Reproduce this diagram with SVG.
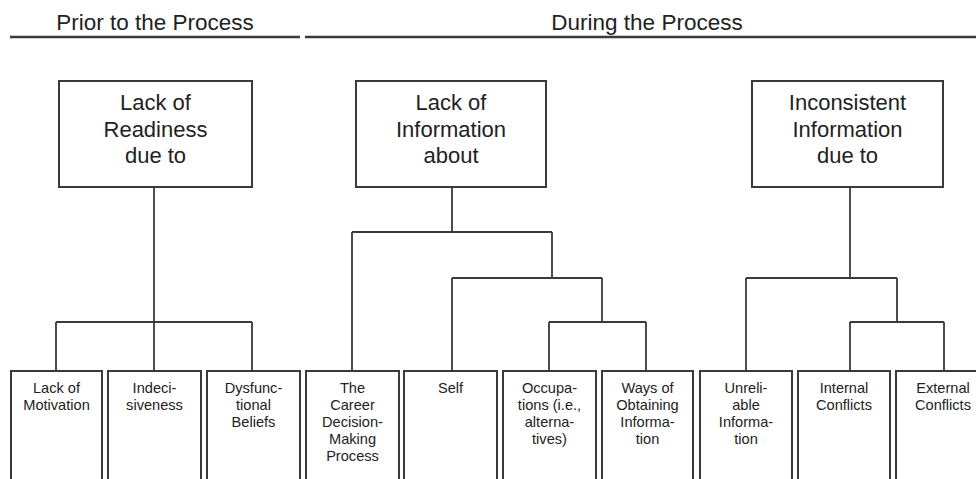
<svg xmlns="http://www.w3.org/2000/svg" width="976" height="479" viewBox="0 0 976 479">
  <style>
    .bg { fill: #ffffff; }
    .box { fill: #ffffff; stroke: #3a3a3a; stroke-width: 2; }
    .wire { fill: none; stroke: #3a3a3a; stroke-width: 1.8; }
    .rule { stroke: #3a3a3a; stroke-width: 2.4; }
    text { font-family: "Liberation Sans", Arial, sans-serif; fill: #222222; text-anchor: middle; }
    .head { font-size: 22.5px; }
    .big { font-size: 22px; }
    .small { font-size: 14.6px; }
  </style>
  <rect class="bg" x="0" y="0" width="976" height="479"/>

  <!-- phase headings -->
  <g id="headings">
    <text class="head" x="155" y="30">Prior to the Process</text>
    <line class="rule" x1="10" y1="37" x2="300" y2="37"/>
    <text class="head" x="647" y="30">During the Process</text>
    <line class="rule" x1="305" y1="37" x2="976" y2="37"/>
  </g>

  <!-- tree connectors -->
  <g id="connectors">
    <!-- readiness -->
    <path class="wire" d="M154,187 V371 M56,322 H252 M56,322 V371 M252,322 V371"/>
    <!-- information -->
    <path class="wire" d="M452,187 V232 M352,232 H552 M352,232 V371 M552,232 V278 M452,278 H602 M452,278 V371 M602,278 V322 M549,322 H646 M549,322 V371 M646,322 V371"/>
    <!-- inconsistent -->
    <path class="wire" d="M850,187 V278 M746,278 H897 M746,278 V371 M897,278 V322 M850,322 H944 M850,322 V371 M944,322 V371"/>
  </g>

  <!-- top-level nodes -->
  <g id="readiness">
    <rect class="box" x="59" y="81" width="193" height="106"/>
    <text class="big" x="155.5" y="110">Lack of</text>
    <text class="big" x="155.5" y="136.5">Readiness</text>
    <text class="big" x="155.5" y="163">due to</text>
  </g>
  <g id="information">
    <rect class="box" x="356" y="81" width="190" height="106"/>
    <text class="big" x="451" y="110">Lack of</text>
    <text class="big" x="451" y="136.5">Information</text>
    <text class="big" x="451" y="163">about</text>
  </g>
  <g id="inconsistent">
    <rect class="box" x="752" y="81" width="191" height="106"/>
    <text class="big" x="847.5" y="110">Inconsistent</text>
    <text class="big" x="847.5" y="136.5">Information</text>
    <text class="big" x="847.5" y="163">due to</text>
  </g>

  <!-- leaf nodes -->
  <g id="motivation">
    <rect class="box" x="11" y="371" width="91" height="120"/>
    <text class="small" x="56.5" y="393">Lack of</text>
    <text class="small" x="56.5" y="410">Motivation</text>
  </g>
  <g id="indecisiveness">
    <rect class="box" x="108" y="371" width="93" height="120"/>
    <text class="small" x="154.5" y="393">Indeci-</text>
    <text class="small" x="154.5" y="410">siveness</text>
  </g>
  <g id="beliefs">
    <rect class="box" x="207" y="371" width="93" height="120"/>
    <text class="small" x="253.5" y="393">Dysfunc-</text>
    <text class="small" x="253.5" y="410">tional</text>
    <text class="small" x="253.5" y="427">Beliefs</text>
  </g>
  <g id="career">
    <rect class="box" x="306" y="371" width="93" height="120"/>
    <text class="small" x="352.5" y="393">The</text>
    <text class="small" x="352.5" y="410">Career</text>
    <text class="small" x="352.5" y="427">Decision-</text>
    <text class="small" x="352.5" y="444">Making</text>
    <text class="small" x="352.5" y="461">Process</text>
  </g>
  <g id="self">
    <rect class="box" x="404" y="371" width="93" height="120"/>
    <text class="small" x="450.5" y="393">Self</text>
  </g>
  <g id="occupations">
    <rect class="box" x="503" y="371" width="93" height="120"/>
    <text class="small" x="549.5" y="393">Occupa-</text>
    <text class="small" x="549.5" y="410">tions (i.e.,</text>
    <text class="small" x="549.5" y="427">alterna-</text>
    <text class="small" x="549.5" y="444">tives)</text>
  </g>
  <g id="ways">
    <rect class="box" x="602" y="371" width="91" height="120"/>
    <text class="small" x="647.5" y="393">Ways of</text>
    <text class="small" x="647.5" y="410">Obtaining</text>
    <text class="small" x="647.5" y="427">Informa-</text>
    <text class="small" x="647.5" y="444">tion</text>
  </g>
  <g id="unreliable">
    <rect class="box" x="700" y="371" width="92" height="120"/>
    <text class="small" x="746" y="393">Unreli-</text>
    <text class="small" x="746" y="410">able</text>
    <text class="small" x="746" y="427">Informa-</text>
    <text class="small" x="746" y="444">tion</text>
  </g>
  <g id="internal">
    <rect class="box" x="798" y="371" width="92" height="120"/>
    <text class="small" x="844" y="393">Internal</text>
    <text class="small" x="844" y="410">Conflicts</text>
  </g>
  <g id="external">
    <rect class="box" x="896" y="371" width="94" height="120"/>
    <text class="small" x="943" y="393">External</text>
    <text class="small" x="943" y="410">Conflicts</text>
  </g>
</svg>
